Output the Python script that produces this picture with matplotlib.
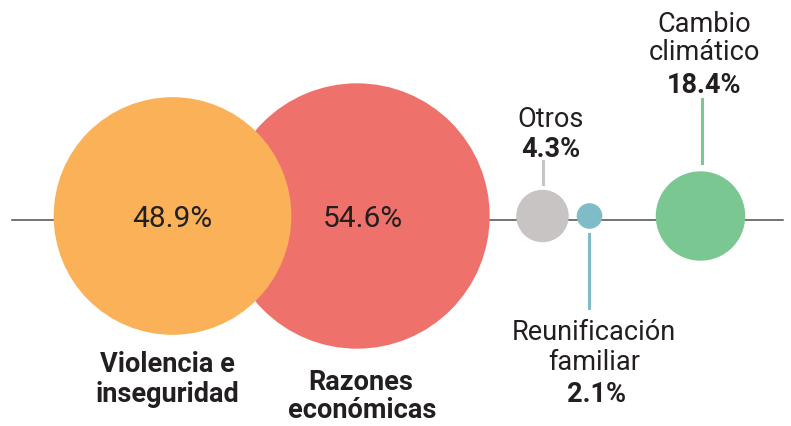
import matplotlib
matplotlib.use("Agg")
import matplotlib.pyplot as plt
from matplotlib.patches import Circle

# ---------------------------------------------------------------
# Data
# ---------------------------------------------------------------
categories = ["Violencia e\ninseguridad", "Razones\neconómicas", "Otros",
              "Reunificación\nfamiliar", "Cambio\nclimático"]
values = [48.9, 54.6, 4.3, 2.1, 18.4]

# ---------------------------------------------------------------
# Layout / style (pixel units, y grows downwards)
# ---------------------------------------------------------------
colors = ["#fbb157", "#ef716b", "#c8c4c3", "#7fbcc8", "#7ac792"]
x_pos = [172.5, 357, 542.5, 589.5, 700.5]
y_mid = 217
# big bubbles scale with value, small ones are boosted so they stay visible
scale_big, scale_small = 2.43, 6.1
radii = [v * (scale_big if v > 10 else scale_small) for v in values]
draw_order = [1, 0, 2, 3, 4]

TXT = "#231f20"
FONT = ["Roboto", "DejaVu Sans"]
FS = 19.5

fig = plt.figure(figsize=(7.91, 4.27), dpi=100)
ax = fig.add_axes([0, 0, 1, 1])
ax.set_xlim(0, 791)
ax.set_ylim(427, 0)
ax.set_aspect("equal")
ax.axis("off")

# baseline axis line
ax.plot([12, 783], [221, 221], color="#4d4d4d", lw=1.1, zorder=1)

for z, i in enumerate(draw_order):
    ax.add_patch(Circle((x_pos[i], y_mid), radii[i], facecolor=colors[i],
                        edgecolor="none", zorder=2 + z))


def pct(v):
    return f"{v:.1f}%"


# values inside the two big bubbles
ax.text(172, 227, pct(values[0]), ha="center", va="baseline",
        fontsize=21.5, color=TXT, family=FONT, zorder=10)
ax.text(363, 227, pct(values[1]), ha="center", va="baseline",
        fontsize=21.5, color=TXT, family=FONT, zorder=10)

# labels under the big bubbles
ax.text(167.5, 372, "Violencia e", ha="center", va="baseline", fontsize=FS,
        fontweight="bold", color=TXT, family=FONT)
ax.text(167.5, 402, "inseguridad", ha="center", va="baseline", fontsize=FS,
        fontweight="bold", color=TXT, family=FONT)
ax.text(361, 390, "Razones", ha="center", va="baseline", fontsize=FS,
        fontweight="bold", color=TXT, family=FONT)
ax.text(362, 418, "económicas", ha="center", va="baseline", fontsize=FS,
        fontweight="bold", color=TXT, family=FONT)

# Otros (above)
ax.plot([543, 543], [162, 185], color=colors[2], lw=2.2, zorder=1)
ax.text(551, 127, "Otros", ha="center", va="baseline", fontsize=FS,
        color=TXT, family=FONT)
ax.text(551, 157, pct(values[2]), ha="center", va="baseline", fontsize=FS,
        fontweight="bold", color=TXT, family=FONT)

# Reunificación familiar (below)
ax.plot([589, 589], [235, 309], color=colors[3], lw=2.2, zorder=1)
ax.text(594, 340, "Reunificación", ha="center", va="baseline", fontsize=FS,
        color=TXT, family=FONT)
ax.text(594, 370, "familiar", ha="center", va="baseline", fontsize=FS,
        color=TXT, family=FONT)
ax.text(596, 402, pct(values[3]), ha="center", va="baseline", fontsize=FS,
        fontweight="bold", color=TXT, family=FONT)

# Cambio climático (above)
ax.plot([702, 702], [100, 164], color=colors[4], lw=2.2, zorder=1)
ax.text(704, 32, "Cambio", ha="center", va="baseline", fontsize=FS,
        color=TXT, family=FONT)
ax.text(704, 60, "climático", ha="center", va="baseline", fontsize=FS,
        color=TXT, family=FONT)
ax.text(704, 93, pct(values[4]), ha="center", va="baseline", fontsize=FS,
        fontweight="bold", color=TXT, family=FONT)

fig.savefig("out.png", dpi=100)
